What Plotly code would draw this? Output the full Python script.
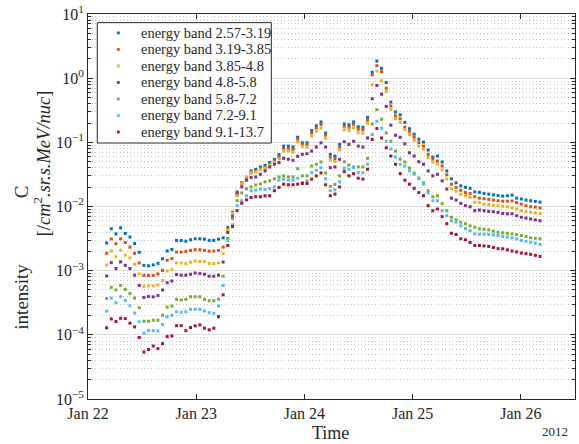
import pandas as pd
import plotly.graph_objects as go

# ---------------- data ----------------
band_names = ["energy band 2.57-3.19", "energy band 3.19-3.85", "energy band 3.85-4.8",
              "energy band 4.8-5.8", "energy band 5.8-7.2", "energy band 7.2-9.1",
              "energy band 9.1-13.7"]

band_2_57 = [2.7e-3, 4.5e-3, 3.75e-3, 4.65e-3, 3.8e-3, 3.35e-3, 2.65e-3, 1.93e-3, 1.21e-3, 1.19e-3,
             1.23e-3, 1.3e-3, 1.53e-3, 2.03e-3, 2.14e-3, 2.96e-3, 2.96e-3, 2.88e-3, 3.03e-3, 3.14e-3,
             3.14e-3, 3.1e-3, 2.96e-3, 2.96e-3, 3.1e-3, 3.25e-3, 4.7e-3, 7.65e-3, 0.0159, 0.0236,
             0.0281, 0.0358, 0.0378, 0.0413, 0.0436, 0.0485, 0.054, 0.0645, 0.0873, 0.0873,
             0.0843, 0.120, 0.0982, 0.0982, 0.153, 0.181, 0.208, 0.140, 0.065, 0.061,
             0.0928, 0.193, 0.188, 0.208, 0.175, 0.172, 0.245, 1.234, 1.853, 1.423,
             0.855, 0.424, 0.297, 0.268, 0.205, 0.163, 0.134, 0.112, 0.101, 0.0757,
             0.059, 0.0611, 0.0494, 0.0358, 0.027, 0.0234, 0.021, 0.0199, 0.0192, 0.0169,
             0.0166, 0.0159, 0.0156, 0.0152, 0.0148, 0.0145, 0.0147, 0.0151, 0.0135, 0.0131,
             0.0126, 0.0123, 0.012, 0.0117]

band_3_19 = [1.86e-3, 3.12e-3, 2.63e-3, 3.14e-3, 2.75e-3, 2.33e-3, 1.86e-3, 1.32e-3, 8.4e-4, 8.4e-4,
             8.4e-4, 8.9e-4, 1.01e-3, 1.45e-3, 1.54e-3, 1.95e-3, 1.95e-3, 2.0e-3, 2.07e-3, 2.12e-3,
             2.12e-3, 2.07e-3, 2.02e-3, 2.02e-3, 2.07e-3, 2.33e-3, 4.37e-3, 8.2e-3, 0.015, 0.0225,
             0.0265, 0.0333, 0.0352, 0.0378, 0.0399, 0.0444, 0.0494, 0.059, 0.0804, 0.0804,
             0.0776, 0.111, 0.0928, 0.0928, 0.140, 0.167, 0.189, 0.129, 0.059, 0.0559,
             0.0843, 0.178, 0.172, 0.191, 0.160, 0.157, 0.221, 1.125, 1.567, 1.265,
             0.698, 0.370, 0.259, 0.233, 0.172, 0.149, 0.120, 0.099, 0.0873, 0.065,
             0.0549, 0.0512, 0.0428, 0.0311, 0.0223, 0.0198, 0.0179, 0.0165, 0.016, 0.0142,
             0.0135, 0.0132, 0.0129, 0.0126, 0.0123, 0.0121, 0.0121, 0.0122, 0.0115, 0.0109,
             0.0103, 0.0099, 0.0098, 0.0095]

band_3_85 = [1.22e-3, 2.02e-3, 1.64e-3, 2.07e-3, 1.75e-3, 1.58e-3, 1.26e-3, 8.9e-4, 5.7e-4, 5.8e-4,
             5.8e-4, 6.0e-4, 7.0e-4, 9.9e-4, 1.04e-3, 1.32e-3, 1.32e-3, 1.29e-3, 1.36e-3, 1.41e-3,
             1.39e-3, 1.38e-3, 1.29e-3, 1.29e-3, 1.32e-3, 1.84e-3, 4.33e-3, 7.8e-3, 0.0147, 0.0231,
             0.0289, 0.0337, 0.0346, 0.0381, 0.0399, 0.0444, 0.0494, 0.0549, 0.0731, 0.0731,
             0.0705, 0.102, 0.0864, 0.0843, 0.125, 0.149, 0.167, 0.116, 0.053, 0.0503,
             0.0757, 0.157, 0.152, 0.169, 0.141, 0.139, 0.198, 0.788, 1.297, 0.908,
             0.620, 0.327, 0.233, 0.205, 0.157, 0.132, 0.107, 0.0873, 0.0785, 0.058,
             0.0494, 0.046, 0.0371, 0.0267, 0.0189, 0.0172, 0.0155, 0.0147, 0.0139, 0.0116,
             0.0115, 0.0109, 0.0107, 0.0105, 0.0103, 0.0101, 0.0099, 0.0095, 0.00915, 0.0086,
             0.0083, 0.0081, 0.0079, 0.0078]

band_4_8 = [8.25e-4, 1.33e-3, 1.08e-3, 1.37e-3, 1.21e-3, 1.08e-3, 8.5e-4, 5.9e-4, 3.83e-4, 3.95e-4,
            3.9e-4, 4.1e-4, 5.0e-4, 6.5e-4, 6.9e-4, 8.7e-4, 8.5e-4, 8.5e-4, 8.8e-4, 9.2e-4,
            9.0e-4, 8.8e-4, 8.2e-4, 8.2e-4, 8.5e-4, 1.36e-3, 3.93e-3, 6.95e-3, 0.0168, 0.0202,
            0.0257, 0.0284, 0.0289, 0.0318, 0.0358, 0.0413, 0.0455, 0.0482, 0.0563, 0.0544,
            0.0525, 0.0605, 0.065, 0.0664, 0.0731, 0.0843, 0.0982, 0.0843, 0.0403, 0.0413,
            0.0544, 0.102, 0.0928, 0.104, 0.0873, 0.0843, 0.117, 0.478, 0.768, 0.563,
            0.363, 0.185, 0.129, 0.120, 0.0948, 0.0688, 0.0611, 0.0499, 0.0455, 0.0358,
            0.030, 0.0318, 0.0251, 0.0187, 0.0135, 0.0126, 0.0112, 0.0103, 0.0099, 0.0086,
            0.0088, 0.0086, 0.0084, 0.0083, 0.0081, 0.0078, 0.0077, 0.0077, 0.0072, 0.0068,
            0.0066, 0.0064, 0.0062, 0.006]

band_5_8 = [3.67e-4, 5.5e-4, 5.0e-4, 5.9e-4, 5.1e-4, 4.4e-4, 3.74e-4, 2.65e-4, 1.63e-4, 1.63e-4,
            1.69e-4, 1.69e-4, 2.02e-4, 2.7e-4, 2.81e-4, 3.57e-4, 3.48e-4, 3.57e-4, 3.92e-4, 3.92e-4,
            3.92e-4, 3.57e-4, 3.4e-4, 3.4e-4, 3.6e-4, 8.2e-4, 3.17e-3, 6.5e-3, 0.0123, 0.0163,
            0.0189, 0.0202, 0.0217, 0.0225, 0.0242, 0.0251, 0.027, 0.0289, 0.030, 0.0289,
            0.0289, 0.0389, 0.030, 0.030, 0.0428, 0.0455, 0.0494, 0.0333, 0.0206, 0.0221,
            0.030, 0.0499, 0.0444, 0.0413, 0.0413, 0.0413, 0.0563, 0.193, 0.323, 0.229,
            0.140, 0.104, 0.0731, 0.0549, 0.0494, 0.0399, 0.0333, 0.0279, 0.0234, 0.0176,
            0.0142, 0.0147, 0.0111, 0.0086, 0.0068, 0.0062, 0.0057, 0.0054, 0.005, 0.00475,
            0.0045, 0.0044, 0.00433, 0.00414, 0.00397, 0.0039, 0.00383, 0.00375, 0.00366, 0.00353,
            0.00341, 0.00325, 0.00319, 0.00314]

band_7_2 = [2.34e-4, 3.74e-4, 3.17e-4, 3.93e-4, 3.44e-4, 2.83e-4, 2.19e-4, 1.6e-4, 1.06e-4, 1.17e-4,
            1.16e-4, 1.15e-4, 1.45e-4, 1.91e-4, 2.02e-4, 2.29e-4, 2.24e-4, 2.29e-4, 2.5e-4, 2.5e-4,
            2.5e-4, 2.35e-4, 2.21e-4, 2.17e-4, 2.81e-4, 5.9e-4, 2.96e-3, 5.2e-3, 0.0103, 0.0123,
            0.0147, 0.0176, 0.018, 0.0187, 0.0185, 0.0191, 0.0202, 0.0257, 0.0267, 0.0257,
            0.0257, 0.0276, 0.0236, 0.0251, 0.0337, 0.0367, 0.0403, 0.027, 0.0176, 0.0182,
            0.0242, 0.0395, 0.0381, 0.0403, 0.0337, 0.0337, 0.0455, 0.132, 0.213, 0.166,
            0.104, 0.0785, 0.059, 0.0455, 0.0428, 0.0358, 0.0318, 0.027, 0.0223, 0.0163,
            0.0123, 0.0123, 0.0086, 0.0072, 0.006, 0.0057, 0.005, 0.0045, 0.0042, 0.00375,
            0.0037, 0.0037, 0.00366, 0.0036, 0.00353, 0.00341, 0.00335, 0.00325, 0.00312, 0.00296,
            0.00287, 0.00278, 0.00268, 0.00256]

band_9_1 = [1.29e-4, 1.77e-4, 1.61e-4, 1.81e-4, 1.79e-4, 1.52e-4, 1.33e-4, 9.1e-5, 5.4e-5, 5.9e-5,
            6.7e-5, 6.1e-5, 7.3e-5, 9.4e-5, 9.6e-5, 1.39e-4, 1.39e-4, 1.16e-4, 1.3e-4, 1.38e-4,
            1.43e-4, 1.27e-4, 1.2e-4, 1.27e-4, 1.92e-4, 4.2e-4, 2.47e-3, 4.87e-3, 0.0086, 0.0112,
            0.0127, 0.0138, 0.0142, 0.0142, 0.0147, 0.0147, 0.0176, 0.0198, 0.0223, 0.0218,
            0.0218, 0.0223, 0.0228, 0.0228, 0.0267, 0.030, 0.0333, 0.0218, 0.0147, 0.0156,
            0.0202, 0.0349, 0.030, 0.0325, 0.0276, 0.0267, 0.0381, 0.111, 0.164, 0.117,
            0.0822, 0.0611, 0.0455, 0.0325, 0.0257, 0.0223, 0.0192, 0.0165, 0.0147, 0.0103,
            0.0086, 0.00915, 0.00695, 0.0054, 0.00383, 0.00366, 0.00314, 0.00303, 0.00275, 0.00247,
            0.00247, 0.00243, 0.00239, 0.0023, 0.0022, 0.00219, 0.00211, 0.00202, 0.00196, 0.00188,
            0.00184, 0.0018, 0.00173, 0.00167]

series = [band_2_57, band_3_19, band_3_85, band_4_8, band_5_8, band_7_2, band_9_1]
colors = ["#0072BD", "#D95319", "#EDB120", "#7E2F8E", "#77AC30", "#4DBEEE", "#A2142F"]

# sample times (roughly hourly cadence)
times = pd.date_range("2012-01-22 04:08", periods=len(band_2_57), freq="62min")

x_tick_vals = ["2012-01-22", "2012-01-23", "2012-01-24", "2012-01-25", "2012-01-26"]
x_tick_text = ["Jan 22", "Jan 23", "Jan 24", "Jan 25", "Jan 26"]
y_tick_vals = [1e-5, 1e-4, 1e-3, 1e-2, 1e-1, 1, 10]
y_tick_text = ["10<sup>\u22125</sup>", "10<sup>\u22124</sup>", "10<sup>\u22123</sup>",
               "10<sup>\u22122</sup>", "10<sup>\u22121</sup>", "10<sup>0</sup>", "10<sup>1</sup>"]

# ---------------- figure ----------------
W, H = 579, 444
L, R, T, B = 88, 3, 12, 45
PW, PH = W - L - R, H - T - B
FONT = "Liberation Serif"
AX = "#262626"


def paper(xp, yp):
    return (xp - L) / PW, (H - B - yp) / PH


fig = go.Figure()
for name, vals, col in zip(band_names, series, colors):
    fig.add_trace(go.Scatter(x=times, y=vals, mode="markers", name=name,
                             marker=dict(color=col, size=3.0, symbol="square",
                                         line=dict(width=0)),
                             showlegend=False))

shapes = []
annotations = []

# legend box (drawn manually for MATLAB-like compact spacing)
bx0, by0 = paper(97.3, 141.7)
bx1, by1 = paper(271.7, 20.7)
shapes.append(dict(type="rect", xref="paper", yref="paper", x0=bx0, y0=by0, x1=bx1, y1=by1,
                   line=dict(color=AX, width=1), fillcolor="white", layer="above"))
for k, (name, col) in enumerate(zip(band_names, colors)):
    yrow = 31 + 16.6 * k
    mx0, my0 = paper(117.0, yrow + 1.4)
    mx1, my1 = paper(119.8, yrow - 1.4)
    shapes.append(dict(type="rect", xref="paper", yref="paper", x0=mx0, y0=my0, x1=mx1, y1=my1,
                       line=dict(width=0), fillcolor=col, layer="above"))
    tx, ty = paper(139, yrow)
    annotations.append(dict(xref="paper", yref="paper", x=tx, y=ty, text=name, showarrow=False,
                            xanchor="left", yanchor="middle",
                            font=dict(family=FONT, size=14.5, color=AX)))

# axis titles
tx, ty = paper(331, 433)
annotations.append(dict(xref="paper", yref="paper", x=tx, y=ty, text="Time", showarrow=False,
                        xanchor="center", yanchor="middle", font=dict(family=FONT, size=18, color=AX)))
tx, ty = paper(571, 432)
annotations.append(dict(xref="paper", yref="paper", x=tx, y=ty, text="2012", showarrow=False,
                        xanchor="right", yanchor="middle", font=dict(family=FONT, size=13, color=AX)))
tx, ty = paper(21, 296)
annotations.append(dict(xref="paper", yref="paper", x=tx, y=ty, text="intensity", showarrow=False,
                        textangle=-90, xanchor="center", yanchor="middle",
                        font=dict(family=FONT, size=19, color=AX)))
tx, ty = paper(21, 191)
annotations.append(dict(xref="paper", yref="paper", x=tx, y=ty, text="C", showarrow=False,
                        textangle=-90, xanchor="center", yanchor="middle",
                        font=dict(family=FONT, size=19, color=AX)))
tx, ty = paper(42, 162)
annotations.append(dict(xref="paper", yref="paper", x=tx, y=ty,
                        text="[/<i>cm</i><sup>2</sup><i>.sr.s.MeV/nuc</i>]", showarrow=False,
                        textangle=-90, xanchor="center", yanchor="middle",
                        font=dict(family=FONT, size=18.5, color=AX)))

fig.update_layout(
    width=W, height=H,
    margin=dict(l=L, r=R, t=T, b=B, pad=0),
    paper_bgcolor="white", plot_bgcolor="white",
    font=dict(family=FONT, color=AX),
    shapes=shapes, annotations=annotations,
    showlegend=False,
    xaxis=dict(type="date", range=["2012-01-22 00:00", "2012-01-26 12:00"],
               tickmode="array", tickvals=x_tick_vals, ticktext=x_tick_text,
               ticks="inside", ticklen=5, tickcolor=AX, tickwidth=1,
               showline=True, linecolor=AX, linewidth=1, mirror="ticks",
               showgrid=False, zeroline=False,
               tickfont=dict(family=FONT, size=16, color=AX)),
    yaxis=dict(type="log", range=[-5, 1],
               tickmode="array", tickvals=y_tick_vals, ticktext=y_tick_text,
               ticks="inside", ticklen=5, tickcolor=AX, tickwidth=1,
               showline=True, linecolor=AX, linewidth=1, mirror="ticks",
               showgrid=True, gridcolor="#dcdcdc", gridwidth=1, zeroline=False,
               tickfont=dict(family=FONT, size=16, color=AX),
               minor=dict(dtick="D1", showgrid=True, gridcolor="#c4c4c4", griddash="1px,2.5px",
                          gridwidth=1, ticks="inside", ticklen=3, tickcolor=AX)),
)

fig.write_html("out.html")
